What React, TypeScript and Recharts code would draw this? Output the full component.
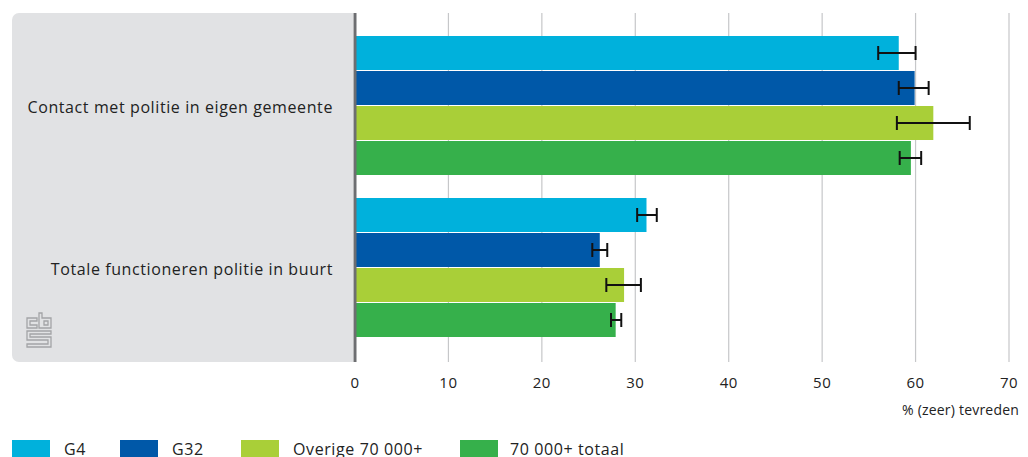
import React from "react";
import {
  BarChart,
  Bar,
  XAxis,
  YAxis,
  CartesianGrid,
  ErrorBar,
} from "recharts";

// categories and values (% (zeer) tevreden)
const categories = [
  "Contact met politie in eigen gemeente",
  "Totale functioneren politie in buurt",
];
const g4 = [58.2, 31.2];
const g4Low = [56.0, 30.2];
const g4High = [60.0, 32.3];
const g32 = [59.9, 26.2];
const g32Low = [58.2, 25.4];
const g32High = [61.4, 27.0];
const overige = [61.9, 28.8];
const overigeLow = [58.0, 26.9];
const overigeHigh = [65.8, 30.6];
const totaal = [59.5, 27.9];
const totaalLow = [58.3, 27.4];
const totaalHigh = [60.6, 28.5];
const xTicks = [0, 10, 20, 30, 40, 50, 60, 70];

const series = [
  { key: "g4", name: "G4", color: "#00b1dc", values: g4, low: g4Low, high: g4High },
  { key: "g32", name: "G32", color: "#0058a8", values: g32, low: g32Low, high: g32High },
  { key: "overige", name: "Overige 70 000+", color: "#a9cf38", values: overige, low: overigeLow, high: overigeHigh },
  { key: "totaal", name: "70 000+ totaal", color: "#36b04b", values: totaal, low: totaalLow, high: totaalHigh },
];

const data = categories.map((cat, i) => {
  const row: Record<string, any> = { cat };
  series.forEach((s) => {
    row[s.key] = s.values[i];
    row[s.key + "Err"] = [s.values[i] - s.low[i], s.high[i] - s.values[i]];
  });
  return row;
});

const FONT = "'Open Sans', 'Noto Sans', sans-serif";
const legendX = [12, 120, 241, 460];

function CbsLogo() {
  return (
    <svg width={26} height={36} viewBox="0 0 26 36" style={{ position: "absolute", left: 26, top: 312 }}>
      <g fill="none" stroke="#a3a4a6" strokeWidth={1.3}>
        <path d="M11 6 H1 V16 H11 V13 H4 V9 H11 Z" />
        <path d="M13 1 V16 H25 V6 H16 V1 Z" />
        <path d="M18 9 H22 V13 H18 Z" />
        <path d="M1 19 H25 V22 H4 V25 H25 V35 H1 V32 H22 V28 H1 Z" />
      </g>
    </svg>
  );
}

export default function App() {
  return (
    <div style={{ position: "absolute", left: 0, top: 0, width: 1028, height: 457, overflow: "hidden", fontFamily: FONT }}>
      <div
        style={{
          position: "absolute",
          left: 12,
          top: 13,
          width: 341,
          height: 349,
          background: "#e1e2e4",
          borderRadius: "7px 0 0 7px",
        }}
      />
      <CbsLogo />
      <div style={{ position: "absolute", left: 0, top: 0 }}>
        <BarChart
          width={1028}
          height={457}
          data={data}
          layout="vertical"
          margin={{ top: 13, right: 19, bottom: 65, left: 0 }}
          barCategoryGap={11}
          barGap={1}
        >
          <CartesianGrid horizontal={false} stroke="#c6c7c9" strokeWidth={1.2} />
          <XAxis
            type="number"
            domain={[0, 70]}
            ticks={xTicks}
            axisLine={false}
            tickLine={false}
            tickMargin={9}
            height={30}
            tick={{ fill: "#222", fontSize: 15, fontFamily: FONT, letterSpacing: 0.5 }}
            label={{
              content: () => (
                <text x={1019} y={415} textAnchor="end" fill="#222" fontSize={14} fontFamily={FONT} letterSpacing={0.2}>
                  % (zeer) tevreden
                </text>
              ),
            }}
          />
          <YAxis
            type="category"
            dataKey="cat"
            width={355}
            padding={{ top: 12, bottom: 13 }}
            axisLine={{ stroke: "#6d6e71", strokeWidth: 3 }}
            tickLine={false}
            tickSize={0}
            tickMargin={22}
            tick={{ fill: "#222", fontSize: 16, fontFamily: FONT, letterSpacing: 0.6, dy: 1 }}
          />
          {series.map((s) => (
            <Bar key={s.key} dataKey={s.key} name={s.name} fill={s.color} isAnimationActive={false}>
              <ErrorBar dataKey={s.key + "Err"} direction="x" width={7} stroke="#111" strokeWidth={2} />
            </Bar>
          ))}
        </BarChart>
      </div>
      {series.map((s, i) => (
        <div key={s.key} style={{ position: "absolute", left: legendX[i], top: 440, display: "flex", alignItems: "flex-start" }}>
          <div style={{ width: 38, height: 17, background: s.color }} />
          <span style={{ marginLeft: i === 3 ? 12 : 14, fontSize: 16, letterSpacing: 0.6, color: "#222", lineHeight: "17px", marginTop: 1 }}>
            {s.name}
          </span>
        </div>
      ))}
    </div>
  );
}
